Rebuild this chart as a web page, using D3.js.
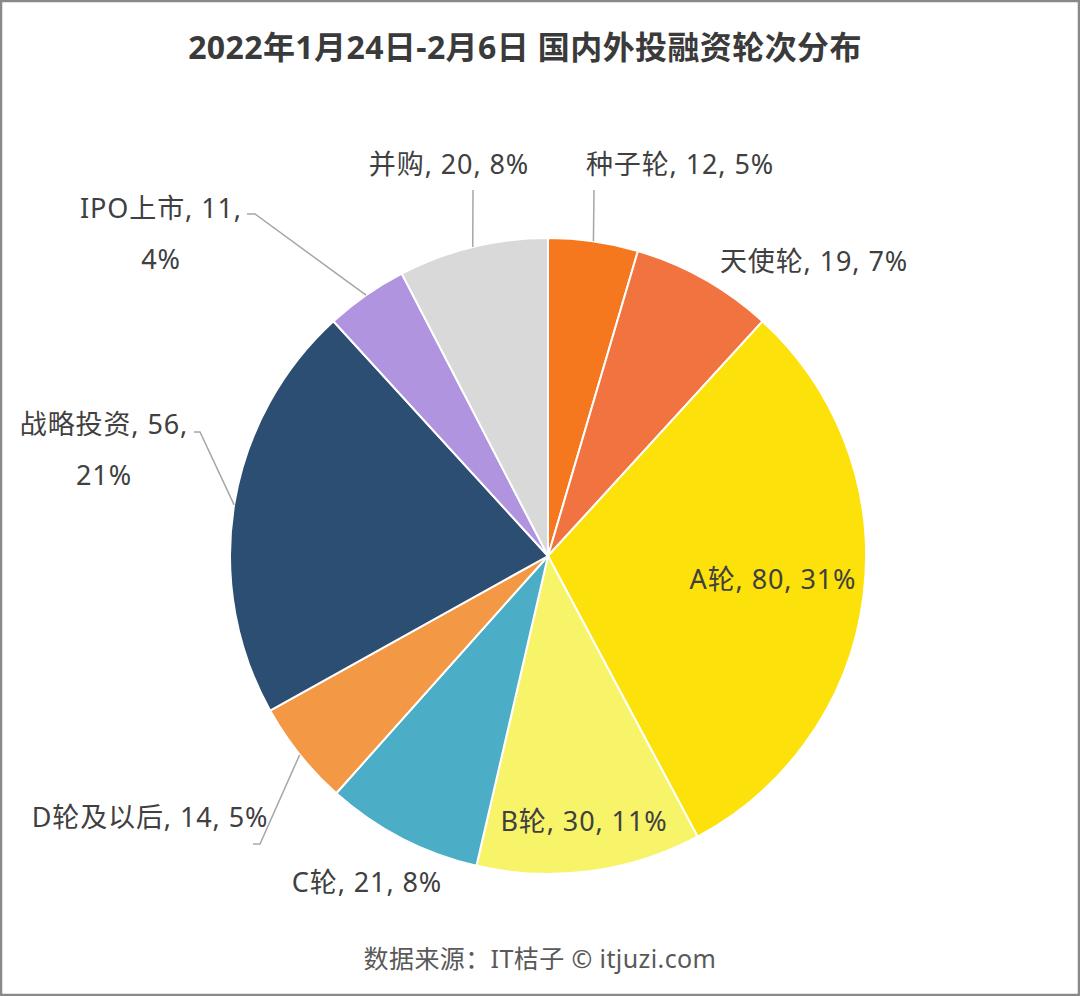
<!DOCTYPE html>
<html>
<head>
<meta charset="utf-8">
<script src="https://cdn.jsdelivr.net/npm/d3@7/dist/d3.min.js"></script>
<style>
  html, body { margin: 0; padding: 0; background: #fff; }
  svg { display: block; }
</style>
</head>
<body>
<svg id="chart" width="1080" height="996"></svg>
<script>
// ---- data ----
const categories = ["种子轮", "天使轮", "A轮", "B轮", "C轮", "D轮及以后", "战略投资", "IPO上市", "并购"];
const values = [12, 19, 80, 30, 21, 14, 56, 11, 20];
const percents = ["5%", "7%", "31%", "11%", "8%", "5%", "21%", "4%", "8%"];
const colors = ["#F5781E", "#F1733F", "#FDE10A", "#F8F46A", "#4BADC6", "#F39845", "#2D4E73", "#B194E0", "#D9D9D9"];
const titleText = "2022年1月24日-2月6日 国内外投融资轮次分布";
const sourceText = "数据来源：IT桔子 © itjuzi.com";

// ---- label placement (layout, not data) ----
const labelLayout = [
  {lines: 1, x: 680, y: 163, anchor: "middle", leader: [[594, 190]]},
  {lines: 1, x: 814, y: 260, anchor: "middle", leader: null},
  {lines: 1, x: 773, y: 578, anchor: "middle", leader: null},
  {lines: 1, x: 584, y: 820, anchor: "middle", leader: null},
  {lines: 1, x: 367, y: 881, anchor: "middle", leader: null},
  {lines: 1, x: 150, y: 816, anchor: "middle", leader: [[260, 844], [253, 844]]},
  {lines: 2, x: 104, y: 423, anchor: "middle", leader: [[200, 432], [194, 432]]},
  {lines: 2, x: 161, y: 207, anchor: "middle", leader: [[255, 214], [247, 214]]},
  {lines: 1, x: 449, y: 163, anchor: "middle", leader: [[473, 190]]}
];

const W = 1080, H = 996;
const cx = 548, cy = 556, R = 318;
const svg = d3.select("#chart");
const fontFam = "'Noto Sans', 'Noto Sans CJK SC', sans-serif";

// frame
svg.append("rect").attr("x", 1).attr("y", 1).attr("width", W - 2).attr("height", H - 2)
  .attr("fill", "#fff").attr("stroke", "#8a8a8a").attr("stroke-width", 2.5);

// title
svg.append("text").attr("x", 525).attr("y", 46)
  .attr("text-anchor", "middle").attr("dominant-baseline", "central")
  .attr("font-family", fontFam)
  .attr("font-weight", "bold").attr("font-size", 32).attr("letter-spacing", 0.4).attr("fill", "#3a3a3a")
  .text(titleText);

const data = categories.map((c, i) => ({name: c, value: values[i], pct: percents[i], color: colors[i], layout: labelLayout[i]}));

const pie = d3.pie().value(d => d.value).sort(null);
const arcs = pie(data);
const arc = d3.arc().innerRadius(0).outerRadius(R);

const g = svg.append("g").attr("transform", `translate(${cx},${cy})`);
g.selectAll("path.slice").data(arcs).enter().append("path")
  .attr("class", "slice")
  .attr("d", arc)
  .attr("fill", d => d.data.color)
  .attr("stroke", "#fff").attr("stroke-width", 2);

// leader lines
arcs.forEach(a => {
  const L = a.data.layout;
  if (!L.leader) return;
  const mid = (a.startAngle + a.endAngle) / 2;
  const p0 = [cx + R * Math.sin(mid), cy - R * Math.cos(mid)];
  const pts = [p0].concat(L.leader);
  svg.append("path")
    .attr("d", d3.line()(pts))
    .attr("fill", "none").attr("stroke", "#a6a6a6").attr("stroke-width", 1.5);
});

// labels
arcs.forEach(a => {
  const L = a.data.layout;
  const t = svg.append("text")
    .attr("font-family", fontFam).attr("font-size", 27).attr("letter-spacing", 0.9).attr("fill", "#404040")
    .attr("text-anchor", L.anchor).attr("dominant-baseline", "central");
  if (L.lines === 1) {
    t.attr("x", L.x).attr("y", L.y).text(`${a.data.name}, ${a.data.value}, ${a.data.pct}`);
  } else {
    t.append("tspan").attr("x", L.x).attr("y", L.y).text(`${a.data.name}, ${a.data.value},`);
    t.append("tspan").attr("x", L.x).attr("y", L.y + 51).text(a.data.pct);
  }
});

// source
svg.append("text").attr("x", 540).attr("y", 958)
  .attr("text-anchor", "middle").attr("dominant-baseline", "central")
  .attr("font-family", fontFam).attr("font-size", 25).attr("letter-spacing", 0.4).attr("fill", "#595959")
  .text(sourceText);
</script>
</body>
</html>
